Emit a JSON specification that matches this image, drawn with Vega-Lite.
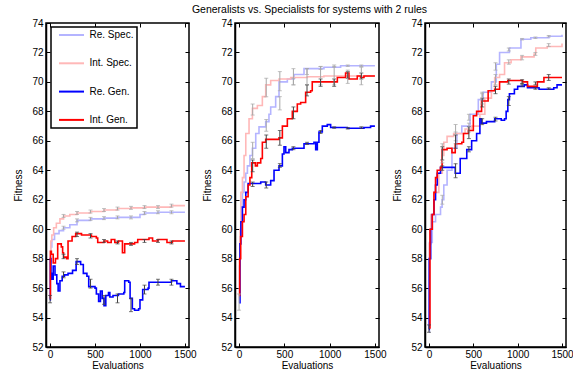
{
  "$schema": "https://vega.github.io/schema/vega-lite/v6.json",
  "background": "white",
  "padding": {"left": 13, "top": 4, "right": 5, "bottom": 3},
  "title": {"text": "Generalists vs. Specialists for systems with 2 rules", "font": "Liberation Sans", "fontSize": 10.5, "fontWeight": "normal", "color": "black", "anchor": "middle", "offset": 2, "dx": 16},
  "bounds": "flush",
  "spacing": 46,
  "datasets": {
    "lines": [
      {"p":1,"s":"Re. Spec.","x":0,"y":57.8},{"p":1,"s":"Re. Spec.","x":8,"y":58.8},{"p":1,"s":"Re. Spec.","x":20,"y":59.3},{"p":1,"s":"Re. Spec.","x":50,"y":59.7},{"p":1,"s":"Re. Spec.","x":100,"y":59.9},{"p":1,"s":"Re. Spec.","x":150,"y":60.1},{"p":1,"s":"Re. Spec.","x":220,"y":60.3},{"p":1,"s":"Re. Spec.","x":300,"y":60.6},{"p":1,"s":"Re. Spec.","x":450,"y":60.7},{"p":1,"s":"Re. Spec.","x":600,"y":60.75},{"p":1,"s":"Re. Spec.","x":750,"y":60.8},{"p":1,"s":"Re. Spec.","x":1000,"y":61.0},{"p":1,"s":"Re. Spec.","x":1050,"y":61.1},{"p":1,"s":"Re. Spec.","x":1200,"y":61.15},{"p":1,"s":"Re. Spec.","x":1500,"y":61.15},
      {"p":1,"s":"Int. Spec.","x":0,"y":58.4},{"p":1,"s":"Int. Spec.","x":8,"y":59.2},{"p":1,"s":"Int. Spec.","x":20,"y":59.6},{"p":1,"s":"Int. Spec.","x":40,"y":60.1},{"p":1,"s":"Int. Spec.","x":70,"y":60.4},{"p":1,"s":"Int. Spec.","x":110,"y":60.7},{"p":1,"s":"Int. Spec.","x":150,"y":60.9},{"p":1,"s":"Int. Spec.","x":220,"y":61.0},{"p":1,"s":"Int. Spec.","x":300,"y":61.1},{"p":1,"s":"Int. Spec.","x":450,"y":61.2},{"p":1,"s":"Int. Spec.","x":600,"y":61.3},{"p":1,"s":"Int. Spec.","x":750,"y":61.4},{"p":1,"s":"Int. Spec.","x":900,"y":61.45},{"p":1,"s":"Int. Spec.","x":1050,"y":61.5},{"p":1,"s":"Int. Spec.","x":1350,"y":61.6},{"p":1,"s":"Int. Spec.","x":1500,"y":61.6},
      {"p":1,"s":"Re. Gen.","x":0,"y":55.2},{"p":1,"s":"Re. Gen.","x":3,"y":58.0},{"p":1,"s":"Re. Gen.","x":10,"y":57.0},{"p":1,"s":"Re. Gen.","x":20,"y":56.6},{"p":1,"s":"Re. Gen.","x":35,"y":57.5},{"p":1,"s":"Re. Gen.","x":55,"y":56.9},{"p":1,"s":"Re. Gen.","x":75,"y":56.3},{"p":1,"s":"Re. Gen.","x":90,"y":55.8},{"p":1,"s":"Re. Gen.","x":110,"y":56.5},{"p":1,"s":"Re. Gen.","x":135,"y":56.8},{"p":1,"s":"Re. Gen.","x":160,"y":56.9},{"p":1,"s":"Re. Gen.","x":200,"y":57.0},{"p":1,"s":"Re. Gen.","x":250,"y":57.2},{"p":1,"s":"Re. Gen.","x":290,"y":57.8},{"p":1,"s":"Re. Gen.","x":340,"y":57.6},{"p":1,"s":"Re. Gen.","x":370,"y":57.0},{"p":1,"s":"Re. Gen.","x":410,"y":56.8},{"p":1,"s":"Re. Gen.","x":430,"y":56.1},{"p":1,"s":"Re. Gen.","x":500,"y":56.0},{"p":1,"s":"Re. Gen.","x":515,"y":55.6},{"p":1,"s":"Re. Gen.","x":540,"y":55.1},{"p":1,"s":"Re. Gen.","x":560,"y":55.8},{"p":1,"s":"Re. Gen.","x":580,"y":55.3},{"p":1,"s":"Re. Gen.","x":600,"y":54.8},{"p":1,"s":"Re. Gen.","x":620,"y":55.5},{"p":1,"s":"Re. Gen.","x":650,"y":55.7},{"p":1,"s":"Re. Gen.","x":665,"y":55.4},{"p":1,"s":"Re. Gen.","x":700,"y":55.5},{"p":1,"s":"Re. Gen.","x":760,"y":55.6},{"p":1,"s":"Re. Gen.","x":820,"y":55.7},{"p":1,"s":"Re. Gen.","x":830,"y":56.5},{"p":1,"s":"Re. Gen.","x":875,"y":56.4},{"p":1,"s":"Re. Gen.","x":890,"y":55.3},{"p":1,"s":"Re. Gen.","x":915,"y":54.6},{"p":1,"s":"Re. Gen.","x":940,"y":54.5},{"p":1,"s":"Re. Gen.","x":985,"y":54.6},{"p":1,"s":"Re. Gen.","x":1000,"y":55.2},{"p":1,"s":"Re. Gen.","x":1030,"y":55.9},{"p":1,"s":"Re. Gen.","x":1090,"y":56.0},{"p":1,"s":"Re. Gen.","x":1100,"y":56.4},{"p":1,"s":"Re. Gen.","x":1350,"y":56.5},{"p":1,"s":"Re. Gen.","x":1410,"y":56.3},{"p":1,"s":"Re. Gen.","x":1450,"y":56.1},{"p":1,"s":"Re. Gen.","x":1500,"y":56.1},
      {"p":1,"s":"Int. Gen.","x":0,"y":55.3},{"p":1,"s":"Int. Gen.","x":4,"y":58.5},{"p":1,"s":"Int. Gen.","x":15,"y":58.3},{"p":1,"s":"Int. Gen.","x":35,"y":57.7},{"p":1,"s":"Int. Gen.","x":60,"y":58.0},{"p":1,"s":"Int. Gen.","x":85,"y":59.0},{"p":1,"s":"Int. Gen.","x":125,"y":58.8},{"p":1,"s":"Int. Gen.","x":140,"y":58.4},{"p":1,"s":"Int. Gen.","x":150,"y":58.1},{"p":1,"s":"Int. Gen.","x":185,"y":58.0},{"p":1,"s":"Int. Gen.","x":200,"y":59.2},{"p":1,"s":"Int. Gen.","x":245,"y":59.5},{"p":1,"s":"Int. Gen.","x":285,"y":59.7},{"p":1,"s":"Int. Gen.","x":350,"y":59.6},{"p":1,"s":"Int. Gen.","x":460,"y":59.5},{"p":1,"s":"Int. Gen.","x":515,"y":59.4},{"p":1,"s":"Int. Gen.","x":530,"y":59.1},{"p":1,"s":"Int. Gen.","x":600,"y":59.2},{"p":1,"s":"Int. Gen.","x":640,"y":59.1},{"p":1,"s":"Int. Gen.","x":680,"y":59.3},{"p":1,"s":"Int. Gen.","x":720,"y":59.1},{"p":1,"s":"Int. Gen.","x":760,"y":59.2},{"p":1,"s":"Int. Gen.","x":805,"y":58.4},{"p":1,"s":"Int. Gen.","x":830,"y":59.0},{"p":1,"s":"Int. Gen.","x":940,"y":59.1},{"p":1,"s":"Int. Gen.","x":975,"y":59.3},{"p":1,"s":"Int. Gen.","x":1100,"y":59.4},{"p":1,"s":"Int. Gen.","x":1140,"y":59.2},{"p":1,"s":"Int. Gen.","x":1200,"y":59.3},{"p":1,"s":"Int. Gen.","x":1300,"y":59.1},{"p":1,"s":"Int. Gen.","x":1360,"y":59.2},{"p":1,"s":"Int. Gen.","x":1500,"y":59.2},

      {"p":2,"s":"Re. Spec.","x":0,"y":55.0},{"p":2,"s":"Re. Spec.","x":5,"y":57.5},{"p":2,"s":"Re. Spec.","x":10,"y":59.5},{"p":2,"s":"Re. Spec.","x":20,"y":61.5},{"p":2,"s":"Re. Spec.","x":37,"y":62.5},{"p":2,"s":"Re. Spec.","x":55,"y":63.2},{"p":2,"s":"Re. Spec.","x":74,"y":63.8},{"p":2,"s":"Re. Spec.","x":92,"y":64.3},{"p":2,"s":"Re. Spec.","x":120,"y":65.0},{"p":2,"s":"Re. Spec.","x":147,"y":65.5},{"p":2,"s":"Re. Spec.","x":184,"y":66.5},{"p":2,"s":"Re. Spec.","x":220,"y":66.95},{"p":2,"s":"Re. Spec.","x":294,"y":67.3},{"p":2,"s":"Re. Spec.","x":330,"y":67.8},{"p":2,"s":"Re. Spec.","x":349,"y":68.3},{"p":2,"s":"Re. Spec.","x":404,"y":69.0},{"p":2,"s":"Re. Spec.","x":441,"y":70.0},{"p":2,"s":"Re. Spec.","x":533,"y":70.2},{"p":2,"s":"Re. Spec.","x":607,"y":70.5},{"p":2,"s":"Re. Spec.","x":717,"y":70.9},{"p":2,"s":"Re. Spec.","x":937,"y":71.0},{"p":2,"s":"Re. Spec.","x":1121,"y":71.1},{"p":2,"s":"Re. Spec.","x":1500,"y":71.1},
      {"p":2,"s":"Int. Spec.","x":0,"y":55.3},{"p":2,"s":"Int. Spec.","x":5,"y":58.0},{"p":2,"s":"Int. Spec.","x":10,"y":60.0},{"p":2,"s":"Int. Spec.","x":20,"y":62.5},{"p":2,"s":"Int. Spec.","x":37,"y":63.5},{"p":2,"s":"Int. Spec.","x":55,"y":65.0},{"p":2,"s":"Int. Spec.","x":74,"y":66.5},{"p":2,"s":"Int. Spec.","x":110,"y":67.5},{"p":2,"s":"Int. Spec.","x":147,"y":68.2},{"p":2,"s":"Int. Spec.","x":202,"y":68.4},{"p":2,"s":"Int. Spec.","x":257,"y":69.0},{"p":2,"s":"Int. Spec.","x":294,"y":69.8},{"p":2,"s":"Int. Spec.","x":349,"y":70.1},{"p":2,"s":"Int. Spec.","x":441,"y":70.2},{"p":2,"s":"Int. Spec.","x":570,"y":70.3},{"p":2,"s":"Int. Spec.","x":754,"y":70.35},{"p":2,"s":"Int. Spec.","x":937,"y":70.4},{"p":2,"s":"Int. Spec.","x":1500,"y":70.4},
      {"p":2,"s":"Re. Gen.","x":0,"y":55.0},{"p":2,"s":"Re. Gen.","x":10,"y":59.0},{"p":2,"s":"Re. Gen.","x":20,"y":60.5},{"p":2,"s":"Re. Gen.","x":37,"y":61.5},{"p":2,"s":"Re. Gen.","x":55,"y":62.0},{"p":2,"s":"Re. Gen.","x":74,"y":62.5},{"p":2,"s":"Re. Gen.","x":100,"y":63.1},{"p":2,"s":"Re. Gen.","x":239,"y":63.2},{"p":2,"s":"Re. Gen.","x":294,"y":63.0},{"p":2,"s":"Re. Gen.","x":349,"y":63.3},{"p":2,"s":"Re. Gen.","x":386,"y":64.0},{"p":2,"s":"Re. Gen.","x":441,"y":64.3},{"p":2,"s":"Re. Gen.","x":478,"y":65.1},{"p":2,"s":"Re. Gen.","x":496,"y":65.6},{"p":2,"s":"Re. Gen.","x":515,"y":65.2},{"p":2,"s":"Re. Gen.","x":551,"y":65.4},{"p":2,"s":"Re. Gen.","x":588,"y":65.5},{"p":2,"s":"Re. Gen.","x":717,"y":65.8},{"p":2,"s":"Re. Gen.","x":827,"y":65.9},{"p":2,"s":"Re. Gen.","x":846,"y":65.4},{"p":2,"s":"Re. Gen.","x":864,"y":65.9},{"p":2,"s":"Re. Gen.","x":882,"y":66.6},{"p":2,"s":"Re. Gen.","x":919,"y":67.0},{"p":2,"s":"Re. Gen.","x":974,"y":67.1},{"p":2,"s":"Re. Gen.","x":1011,"y":66.9},{"p":2,"s":"Re. Gen.","x":1195,"y":66.85},{"p":2,"s":"Re. Gen.","x":1379,"y":66.9},{"p":2,"s":"Re. Gen.","x":1452,"y":67.0},{"p":2,"s":"Re. Gen.","x":1500,"y":67.0},
      {"p":2,"s":"Int. Gen.","x":0,"y":55.5},{"p":2,"s":"Int. Gen.","x":7,"y":58.0},{"p":2,"s":"Int. Gen.","x":18,"y":59.5},{"p":2,"s":"Int. Gen.","x":37,"y":60.5},{"p":2,"s":"Int. Gen.","x":55,"y":61.0},{"p":2,"s":"Int. Gen.","x":74,"y":62.2},{"p":2,"s":"Int. Gen.","x":100,"y":63.0},{"p":2,"s":"Int. Gen.","x":120,"y":63.5},{"p":2,"s":"Int. Gen.","x":140,"y":64.5},{"p":2,"s":"Int. Gen.","x":180,"y":64.3},{"p":2,"s":"Int. Gen.","x":202,"y":64.5},{"p":2,"s":"Int. Gen.","x":239,"y":64.8},{"p":2,"s":"Int. Gen.","x":257,"y":65.9},{"p":2,"s":"Int. Gen.","x":294,"y":66.1},{"p":2,"s":"Int. Gen.","x":441,"y":66.2},{"p":2,"s":"Int. Gen.","x":478,"y":67.0},{"p":2,"s":"Int. Gen.","x":533,"y":67.5},{"p":2,"s":"Int. Gen.","x":588,"y":68.0},{"p":2,"s":"Int. Gen.","x":643,"y":68.5},{"p":2,"s":"Int. Gen.","x":680,"y":68.6},{"p":2,"s":"Int. Gen.","x":735,"y":69.3},{"p":2,"s":"Int. Gen.","x":790,"y":69.4},{"p":2,"s":"Int. Gen.","x":808,"y":70.0},{"p":2,"s":"Int. Gen.","x":974,"y":70.0},{"p":2,"s":"Int. Gen.","x":1085,"y":70.3},{"p":2,"s":"Int. Gen.","x":1176,"y":70.6},{"p":2,"s":"Int. Gen.","x":1213,"y":70.2},{"p":2,"s":"Int. Gen.","x":1305,"y":70.4},{"p":2,"s":"Int. Gen.","x":1342,"y":70.3},{"p":2,"s":"Int. Gen.","x":1379,"y":70.4},{"p":2,"s":"Int. Gen.","x":1500,"y":70.4},

      {"p":3,"s":"Re. Spec.","x":0,"y":53.0},{"p":3,"s":"Re. Spec.","x":5,"y":59.1},{"p":3,"s":"Re. Spec.","x":37,"y":60.5},{"p":3,"s":"Re. Spec.","x":74,"y":61.0},{"p":3,"s":"Re. Spec.","x":130,"y":61.5},{"p":3,"s":"Re. Spec.","x":148,"y":62.0},{"p":3,"s":"Re. Spec.","x":167,"y":63.0},{"p":3,"s":"Re. Spec.","x":204,"y":64.0},{"p":3,"s":"Re. Spec.","x":259,"y":65.5},{"p":3,"s":"Re. Spec.","x":315,"y":66.5},{"p":3,"s":"Re. Spec.","x":370,"y":67.0},{"p":3,"s":"Re. Spec.","x":463,"y":67.8},{"p":3,"s":"Re. Spec.","x":556,"y":68.8},{"p":3,"s":"Re. Spec.","x":611,"y":69.3},{"p":3,"s":"Re. Spec.","x":704,"y":70.0},{"p":3,"s":"Re. Spec.","x":759,"y":71.2},{"p":3,"s":"Re. Spec.","x":796,"y":72.0},{"p":3,"s":"Re. Spec.","x":907,"y":72.3},{"p":3,"s":"Re. Spec.","x":1037,"y":72.9},{"p":3,"s":"Re. Spec.","x":1148,"y":73.0},{"p":3,"s":"Re. Spec.","x":1352,"y":73.1},{"p":3,"s":"Re. Spec.","x":1500,"y":73.2},
      {"p":3,"s":"Int. Spec.","x":0,"y":53.5},{"p":3,"s":"Int. Spec.","x":5,"y":59.0},{"p":3,"s":"Int. Spec.","x":20,"y":61.0},{"p":3,"s":"Int. Spec.","x":56,"y":62.5},{"p":3,"s":"Int. Spec.","x":111,"y":63.8},{"p":3,"s":"Int. Spec.","x":150,"y":65.0},{"p":3,"s":"Int. Spec.","x":167,"y":65.9},{"p":3,"s":"Int. Spec.","x":204,"y":66.3},{"p":3,"s":"Int. Spec.","x":278,"y":66.5},{"p":3,"s":"Int. Spec.","x":407,"y":66.8},{"p":3,"s":"Int. Spec.","x":481,"y":67.0},{"p":3,"s":"Int. Spec.","x":574,"y":67.8},{"p":3,"s":"Int. Spec.","x":630,"y":68.9},{"p":3,"s":"Int. Spec.","x":704,"y":69.4},{"p":3,"s":"Int. Spec.","x":741,"y":70.3},{"p":3,"s":"Int. Spec.","x":796,"y":70.5},{"p":3,"s":"Int. Spec.","x":852,"y":71.3},{"p":3,"s":"Int. Spec.","x":926,"y":71.5},{"p":3,"s":"Int. Spec.","x":1037,"y":71.7},{"p":3,"s":"Int. Spec.","x":1185,"y":71.9},{"p":3,"s":"Int. Spec.","x":1204,"y":72.3},{"p":3,"s":"Int. Spec.","x":1333,"y":72.4},{"p":3,"s":"Int. Spec.","x":1500,"y":72.6},
      {"p":3,"s":"Re. Gen.","x":0,"y":53.2},{"p":3,"s":"Re. Gen.","x":3,"y":58.0},{"p":3,"s":"Re. Gen.","x":19,"y":60.0},{"p":3,"s":"Re. Gen.","x":37,"y":61.0},{"p":3,"s":"Re. Gen.","x":56,"y":62.0},{"p":3,"s":"Re. Gen.","x":74,"y":63.0},{"p":3,"s":"Re. Gen.","x":93,"y":63.8},{"p":3,"s":"Re. Gen.","x":130,"y":64.2},{"p":3,"s":"Re. Gen.","x":296,"y":63.8},{"p":3,"s":"Re. Gen.","x":352,"y":64.8},{"p":3,"s":"Re. Gen.","x":426,"y":65.4},{"p":3,"s":"Re. Gen.","x":481,"y":66.0},{"p":3,"s":"Re. Gen.","x":537,"y":66.5},{"p":3,"s":"Re. Gen.","x":574,"y":67.5},{"p":3,"s":"Re. Gen.","x":593,"y":67.2},{"p":3,"s":"Re. Gen.","x":648,"y":67.3},{"p":3,"s":"Re. Gen.","x":741,"y":67.5},{"p":3,"s":"Re. Gen.","x":815,"y":67.4},{"p":3,"s":"Re. Gen.","x":852,"y":67.5},{"p":3,"s":"Re. Gen.","x":870,"y":68.0},{"p":3,"s":"Re. Gen.","x":889,"y":68.8},{"p":3,"s":"Re. Gen.","x":907,"y":69.2},{"p":3,"s":"Re. Gen.","x":963,"y":69.5},{"p":3,"s":"Re. Gen.","x":1000,"y":69.7},{"p":3,"s":"Re. Gen.","x":1074,"y":69.8},{"p":3,"s":"Re. Gen.","x":1111,"y":69.6},{"p":3,"s":"Re. Gen.","x":1241,"y":69.5},{"p":3,"s":"Re. Gen.","x":1407,"y":69.6},{"p":3,"s":"Re. Gen.","x":1444,"y":69.8},{"p":3,"s":"Re. Gen.","x":1500,"y":69.8},
      {"p":3,"s":"Int. Gen.","x":0,"y":53.3},{"p":3,"s":"Int. Gen.","x":11,"y":60.0},{"p":3,"s":"Int. Gen.","x":37,"y":61.0},{"p":3,"s":"Int. Gen.","x":56,"y":62.5},{"p":3,"s":"Int. Gen.","x":74,"y":63.5},{"p":3,"s":"Int. Gen.","x":93,"y":64.0},{"p":3,"s":"Int. Gen.","x":130,"y":64.2},{"p":3,"s":"Int. Gen.","x":148,"y":65.4},{"p":3,"s":"Int. Gen.","x":204,"y":65.5},{"p":3,"s":"Int. Gen.","x":259,"y":65.2},{"p":3,"s":"Int. Gen.","x":296,"y":65.8},{"p":3,"s":"Int. Gen.","x":370,"y":65.9},{"p":3,"s":"Int. Gen.","x":389,"y":66.5},{"p":3,"s":"Int. Gen.","x":444,"y":66.7},{"p":3,"s":"Int. Gen.","x":500,"y":67.7},{"p":3,"s":"Int. Gen.","x":537,"y":68.0},{"p":3,"s":"Int. Gen.","x":593,"y":68.7},{"p":3,"s":"Int. Gen.","x":667,"y":69.4},{"p":3,"s":"Int. Gen.","x":741,"y":69.5},{"p":3,"s":"Int. Gen.","x":796,"y":70.0},{"p":3,"s":"Int. Gen.","x":889,"y":70.1},{"p":3,"s":"Int. Gen.","x":1056,"y":70.0},{"p":3,"s":"Int. Gen.","x":1111,"y":69.7},{"p":3,"s":"Int. Gen.","x":1222,"y":70.0},{"p":3,"s":"Int. Gen.","x":1296,"y":70.3},{"p":3,"s":"Int. Gen.","x":1500,"y":70.3}
    ],
    "err": [
      {"p":1,"s":"Re. Spec.","x":150,"lo":60.0,"hi":60.2},{"p":1,"s":"Re. Spec.","x":300,"lo":60.5,"hi":60.7},{"p":1,"s":"Re. Spec.","x":450,"lo":60.6,"hi":60.8},{"p":1,"s":"Re. Spec.","x":600,"lo":60.65,"hi":60.85},{"p":1,"s":"Re. Spec.","x":750,"lo":60.7,"hi":60.9},{"p":1,"s":"Re. Spec.","x":900,"lo":60.7,"hi":60.9},{"p":1,"s":"Re. Spec.","x":1050,"lo":61.0,"hi":61.2},{"p":1,"s":"Re. Spec.","x":1200,"lo":61.05,"hi":61.25},{"p":1,"s":"Re. Spec.","x":1350,"lo":61.05,"hi":61.25},
      {"p":1,"s":"Int. Spec.","x":150,"lo":60.8,"hi":61.0},{"p":1,"s":"Int. Spec.","x":300,"lo":61.0,"hi":61.2},{"p":1,"s":"Int. Spec.","x":450,"lo":61.1,"hi":61.3},{"p":1,"s":"Int. Spec.","x":600,"lo":61.2,"hi":61.4},{"p":1,"s":"Int. Spec.","x":750,"lo":61.3,"hi":61.5},{"p":1,"s":"Int. Spec.","x":900,"lo":61.35,"hi":61.55},{"p":1,"s":"Int. Spec.","x":1050,"lo":61.4,"hi":61.6},{"p":1,"s":"Int. Spec.","x":1200,"lo":61.4,"hi":61.6},{"p":1,"s":"Int. Spec.","x":1350,"lo":61.5,"hi":61.7},
      {"p":1,"s":"Re. Gen.","x":0,"lo":55.0,"hi":55.5},{"p":1,"s":"Re. Gen.","x":150,"lo":56.7,"hi":57.1},{"p":1,"s":"Re. Gen.","x":300,"lo":57.6,"hi":58.0},{"p":1,"s":"Re. Gen.","x":450,"lo":56.0,"hi":56.6},{"p":1,"s":"Re. Gen.","x":600,"lo":54.9,"hi":55.5},{"p":1,"s":"Re. Gen.","x":750,"lo":55.0,"hi":55.6},{"p":1,"s":"Re. Gen.","x":900,"lo":54.4,"hi":55.3},{"p":1,"s":"Re. Gen.","x":1050,"lo":55.6,"hi":56.2},{"p":1,"s":"Re. Gen.","x":1200,"lo":56.2,"hi":56.6},{"p":1,"s":"Re. Gen.","x":1350,"lo":56.2,"hi":56.6},
      {"p":1,"s":"Int. Gen.","x":150,"lo":58.0,"hi":58.3},{"p":1,"s":"Int. Gen.","x":300,"lo":59.5,"hi":59.8},{"p":1,"s":"Int. Gen.","x":450,"lo":59.4,"hi":59.7},{"p":1,"s":"Int. Gen.","x":600,"lo":59.1,"hi":59.3},{"p":1,"s":"Int. Gen.","x":750,"lo":59.0,"hi":59.2},{"p":1,"s":"Int. Gen.","x":900,"lo":58.9,"hi":59.1},{"p":1,"s":"Int. Gen.","x":1050,"lo":59.1,"hi":59.3},{"p":1,"s":"Int. Gen.","x":1200,"lo":59.1,"hi":59.3},{"p":1,"s":"Int. Gen.","x":1350,"lo":59.0,"hi":59.2},

      {"p":2,"s":"Re. Spec.","x":150,"lo":64.8,"hi":65.9},{"p":2,"s":"Re. Spec.","x":300,"lo":66.65,"hi":67.45},{"p":2,"s":"Re. Spec.","x":450,"lo":68.1,"hi":69.0},{"p":2,"s":"Re. Spec.","x":600,"lo":69.8,"hi":70.25},{"p":2,"s":"Re. Spec.","x":750,"lo":70.5,"hi":70.9},{"p":2,"s":"Re. Spec.","x":900,"lo":70.85,"hi":71.05},{"p":2,"s":"Re. Spec.","x":1050,"lo":71.0,"hi":71.15},{"p":2,"s":"Re. Spec.","x":1200,"lo":71.05,"hi":71.15},{"p":2,"s":"Re. Spec.","x":1350,"lo":71.05,"hi":71.15},
      {"p":2,"s":"Int. Spec.","x":0,"lo":54.5,"hi":55.6},{"p":2,"s":"Int. Spec.","x":150,"lo":67.75,"hi":68.5},{"p":2,"s":"Int. Spec.","x":300,"lo":69.0,"hi":70.25},{"p":2,"s":"Int. Spec.","x":450,"lo":69.4,"hi":70.7},{"p":2,"s":"Int. Spec.","x":600,"lo":69.8,"hi":70.9},{"p":2,"s":"Int. Spec.","x":750,"lo":69.8,"hi":70.9},{"p":2,"s":"Int. Spec.","x":900,"lo":69.8,"hi":71.05},{"p":2,"s":"Int. Spec.","x":1050,"lo":69.8,"hi":71.05},{"p":2,"s":"Int. Spec.","x":1200,"lo":69.9,"hi":70.8},{"p":2,"s":"Int. Spec.","x":1350,"lo":69.8,"hi":71.0},
      {"p":2,"s":"Re. Gen.","x":150,"lo":62.9,"hi":63.2},{"p":2,"s":"Re. Gen.","x":300,"lo":62.8,"hi":63.2},{"p":2,"s":"Re. Gen.","x":450,"lo":64.2,"hi":64.45},{"p":2,"s":"Re. Gen.","x":600,"lo":65.4,"hi":65.6},{"p":2,"s":"Re. Gen.","x":750,"lo":65.75,"hi":65.9},{"p":2,"s":"Re. Gen.","x":900,"lo":66.5,"hi":66.7},{"p":2,"s":"Re. Gen.","x":1050,"lo":66.85,"hi":66.95},{"p":2,"s":"Re. Gen.","x":1200,"lo":66.8,"hi":66.9},{"p":2,"s":"Re. Gen.","x":1350,"lo":66.85,"hi":66.95},
      {"p":2,"s":"Int. Gen.","x":150,"lo":63.9,"hi":64.7},{"p":2,"s":"Int. Gen.","x":300,"lo":65.5,"hi":66.4},{"p":2,"s":"Int. Gen.","x":450,"lo":65.7,"hi":66.7},{"p":2,"s":"Int. Gen.","x":600,"lo":67.5,"hi":68.3},{"p":2,"s":"Int. Gen.","x":750,"lo":69.05,"hi":69.8},{"p":2,"s":"Int. Gen.","x":900,"lo":69.7,"hi":70.2},{"p":2,"s":"Int. Gen.","x":1050,"lo":69.7,"hi":70.2},{"p":2,"s":"Int. Gen.","x":1200,"lo":70.25,"hi":70.7},{"p":2,"s":"Int. Gen.","x":1350,"lo":70.2,"hi":70.6},

      {"p":3,"s":"Re. Spec.","x":150,"lo":61.7,"hi":62.3},{"p":3,"s":"Re. Spec.","x":300,"lo":66.0,"hi":66.6},{"p":3,"s":"Re. Spec.","x":450,"lo":67.4,"hi":67.8},{"p":3,"s":"Re. Spec.","x":600,"lo":68.8,"hi":69.2},{"p":3,"s":"Re. Spec.","x":750,"lo":70.8,"hi":71.3},{"p":3,"s":"Re. Spec.","x":900,"lo":72.1,"hi":72.3},{"p":3,"s":"Re. Spec.","x":1050,"lo":72.85,"hi":72.95},{"p":3,"s":"Re. Spec.","x":1200,"lo":72.95,"hi":73.05},{"p":3,"s":"Re. Spec.","x":1350,"lo":73.05,"hi":73.15},
      {"p":3,"s":"Int. Spec.","x":150,"lo":64.5,"hi":65.8},{"p":3,"s":"Int. Spec.","x":300,"lo":65.8,"hi":67.1},{"p":3,"s":"Int. Spec.","x":450,"lo":66.6,"hi":67.2},{"p":3,"s":"Int. Spec.","x":600,"lo":68.5,"hi":69.3},{"p":3,"s":"Int. Spec.","x":750,"lo":69.8,"hi":70.5},{"p":3,"s":"Int. Spec.","x":900,"lo":71.2,"hi":71.5},{"p":3,"s":"Int. Spec.","x":1050,"lo":71.5,"hi":71.8},{"p":3,"s":"Int. Spec.","x":1200,"lo":71.8,"hi":72.0},{"p":3,"s":"Int. Spec.","x":1350,"lo":72.4,"hi":72.6},
      {"p":3,"s":"Re. Gen.","x":0,"lo":53.0,"hi":53.5},{"p":3,"s":"Re. Gen.","x":150,"lo":64.0,"hi":64.3},{"p":3,"s":"Re. Gen.","x":300,"lo":63.5,"hi":64.45},{"p":3,"s":"Re. Gen.","x":450,"lo":65.25,"hi":65.6},{"p":3,"s":"Re. Gen.","x":600,"lo":67.1,"hi":67.5},{"p":3,"s":"Re. Gen.","x":750,"lo":67.35,"hi":67.6},{"p":3,"s":"Re. Gen.","x":900,"lo":68.4,"hi":69.0},{"p":3,"s":"Re. Gen.","x":1050,"lo":69.7,"hi":69.9},{"p":3,"s":"Re. Gen.","x":1200,"lo":69.5,"hi":69.6},{"p":3,"s":"Re. Gen.","x":1350,"lo":69.5,"hi":69.6},
      {"p":3,"s":"Int. Gen.","x":150,"lo":64.7,"hi":65.6},{"p":3,"s":"Int. Gen.","x":300,"lo":65.5,"hi":66.4},{"p":3,"s":"Int. Gen.","x":450,"lo":66.15,"hi":66.95},{"p":3,"s":"Int. Gen.","x":600,"lo":68.3,"hi":68.9},{"p":3,"s":"Int. Gen.","x":750,"lo":69.2,"hi":69.7},{"p":3,"s":"Int. Gen.","x":900,"lo":69.85,"hi":70.2},{"p":3,"s":"Int. Gen.","x":1050,"lo":69.85,"hi":70.15},{"p":3,"s":"Int. Gen.","x":1200,"lo":69.8,"hi":70.0},{"p":3,"s":"Int. Gen.","x":1350,"lo":70.1,"hi":70.5}
    ]
  },
  "config": {
    "font": "Liberation Sans",
    "view": {"stroke": "black", "strokeWidth": 1.5},
    "axis": {"grid": false, "domainColor": "black", "domainWidth": 1.5, "tickColor": "black", "tickSize": -4, "tickWidth": 1, "labelFont": "Liberation Sans", "labelFontSize": 10, "labelColor": "black", "titleFont": "Liberation Sans", "titleFontSize": 10, "titleFontWeight": "normal", "titleColor": "black", "format": "d"},
    "legend": {"orient": "none", "legendX": 5, "legendY": 4, "title": null, "strokeColor": "black", "strokeWidth": 1.5, "fillColor": "white", "padding": 3, "titlePadding": 0, "symbolType": "M-12.5,0H12.5", "symbolSize": 4, "symbolOffset": 12.5, "symbolStrokeWidth": 2, "labelFontSize": 10, "labelFont": "Liberation Sans", "labelColor": "black", "rowPadding": 18.3, "labelOffset": 13, "cornerRadius": 0}
  },
  "hconcat": [
    {
      "width": 143, "height": 324,
      "resolve": {"axis": {"x": "independent", "y": "independent"}},
      "layer": [
        {
          "data": {"name": "lines"},
          "transform": [{"filter": "datum.p == 1"}],
          "mark": {"type": "line", "interpolate": "step-after", "strokeWidth": 1.6},
          "encoding": {
            "x": {"field": "x", "type": "quantitative", "scale": {"domain": [-45, 1545], "nice": false, "zero": false}, "axis": {"values": [0, 500, 1000, 1500], "title": "Evaluations", "titlePadding": 1, "labelPadding": 6}},
            "y": {"field": "y", "type": "quantitative", "scale": {"domain": [52, 74], "nice": false, "zero": false}, "axis": {"values": [52,54,56,58,60,62,64,66,68,70,72,74], "title": "Fitness", "titlePadding": 8, "labelPadding": 7}},
            "color": {"field": "s", "type": "nominal", "scale": {"domain": ["Re. Spec.", "Int. Spec.", "Re. Gen.", "Int. Gen."], "range": ["#b4b4ff", "#ffb8b8", "#0000ff", "#ff0000"]}},
            "order": {"field": "x", "type": "quantitative"}
          }
        },
        {
          "data": {"name": "err"},
          "transform": [{"filter": "datum.p == 1"}],
          "mark": {"type": "errorbar", "ticks": {"size": 4}, "thickness": 1},
          "encoding": {
            "x": {"field": "x", "type": "quantitative", "axis": {"orient": "top", "values": [0, 500, 1000, 1500], "labels": false, "title": null, "domain": false}},
            "y": {"field": "lo", "type": "quantitative", "axis": {"orient": "right", "values": [52,54,56,58,60,62,64,66,68,70,72,74], "labels": false, "title": null, "domain": false}},
            "y2": {"field": "hi"},
            "color": {"condition": {"test": "indexof(datum.s, 'Spec') >= 0", "value": "#a8a8a8"}, "value": "#404040"}
          }
        }
      ]
    },
    {
      "width": 144, "height": 324,
      "resolve": {"axis": {"x": "independent", "y": "independent"}},
      "layer": [
        {
          "data": {"name": "lines"},
          "transform": [{"filter": "datum.p == 2"}],
          "mark": {"type": "line", "interpolate": "step-after", "strokeWidth": 1.6},
          "encoding": {
            "x": {"field": "x", "type": "quantitative", "scale": {"domain": [-45, 1545], "nice": false, "zero": false}, "axis": {"values": [0, 500, 1000, 1500], "title": "Evaluations", "titlePadding": 1, "labelPadding": 6}},
            "y": {"field": "y", "type": "quantitative", "scale": {"domain": [52, 74], "nice": false, "zero": false}, "axis": {"values": [52,54,56,58,60,62,64,66,68,70,72,74], "title": "Fitness", "titlePadding": 8, "labelPadding": 7}},
            "color": {"field": "s", "type": "nominal", "scale": {"domain": ["Re. Spec.", "Int. Spec.", "Re. Gen.", "Int. Gen."], "range": ["#b4b4ff", "#ffb8b8", "#0000ff", "#ff0000"]}},
            "order": {"field": "x", "type": "quantitative"}
          }
        },
        {
          "data": {"name": "err"},
          "transform": [{"filter": "datum.p == 2"}],
          "mark": {"type": "errorbar", "ticks": {"size": 4}, "thickness": 1},
          "encoding": {
            "x": {"field": "x", "type": "quantitative", "axis": {"orient": "top", "values": [0, 500, 1000, 1500], "labels": false, "title": null, "domain": false}},
            "y": {"field": "lo", "type": "quantitative", "axis": {"orient": "right", "values": [52,54,56,58,60,62,64,66,68,70,72,74], "labels": false, "title": null, "domain": false}},
            "y2": {"field": "hi"},
            "color": {"condition": {"test": "indexof(datum.s, 'Spec') >= 0", "value": "#a8a8a8"}, "value": "#404040"}
          }
        }
      ]
    },
    {
      "width": 141, "height": 324,
      "resolve": {"axis": {"x": "independent", "y": "independent"}},
      "layer": [
        {
          "data": {"name": "lines"},
          "transform": [{"filter": "datum.p == 3"}],
          "mark": {"type": "line", "interpolate": "step-after", "strokeWidth": 1.6},
          "encoding": {
            "x": {"field": "x", "type": "quantitative", "scale": {"domain": [-45, 1545], "nice": false, "zero": false}, "axis": {"values": [0, 500, 1000, 1500], "title": "Evaluations", "titlePadding": 1, "labelPadding": 6}},
            "y": {"field": "y", "type": "quantitative", "scale": {"domain": [52, 74], "nice": false, "zero": false}, "axis": {"values": [52,54,56,58,60,62,64,66,68,70,72,74], "title": "Fitness", "titlePadding": 8, "labelPadding": 7}},
            "color": {"field": "s", "type": "nominal", "scale": {"domain": ["Re. Spec.", "Int. Spec.", "Re. Gen.", "Int. Gen."], "range": ["#b4b4ff", "#ffb8b8", "#0000ff", "#ff0000"]}},
            "order": {"field": "x", "type": "quantitative"}
          }
        },
        {
          "data": {"name": "err"},
          "transform": [{"filter": "datum.p == 3"}],
          "mark": {"type": "errorbar", "ticks": {"size": 4}, "thickness": 1},
          "encoding": {
            "x": {"field": "x", "type": "quantitative", "axis": {"orient": "top", "values": [0, 500, 1000, 1500], "labels": false, "title": null, "domain": false}},
            "y": {"field": "lo", "type": "quantitative", "axis": {"orient": "right", "values": [52,54,56,58,60,62,64,66,68,70,72,74], "labels": false, "title": null, "domain": false}},
            "y2": {"field": "hi"},
            "color": {"condition": {"test": "indexof(datum.s, 'Spec') >= 0", "value": "#a8a8a8"}, "value": "#404040"}
          }
        }
      ]
    }
  ]
}
